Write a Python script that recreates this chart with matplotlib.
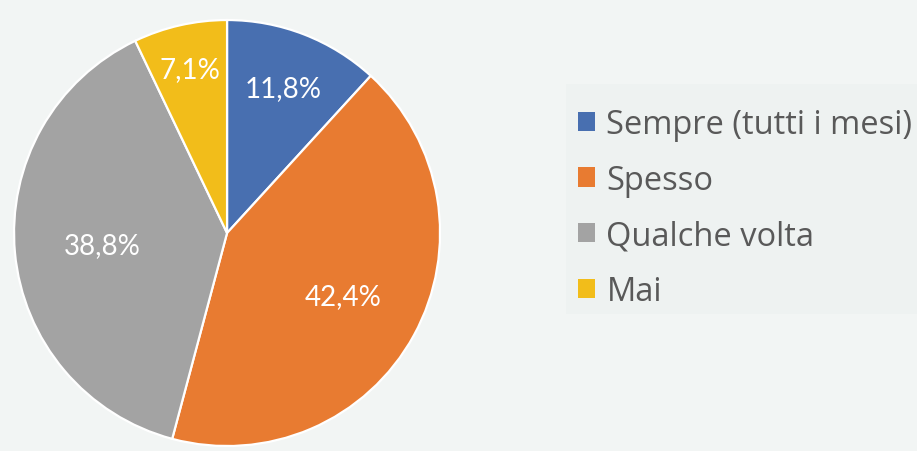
import numpy as np
import matplotlib
matplotlib.use("Agg")
import matplotlib.pyplot as plt
from matplotlib.patches import Rectangle

# Data
categories = ["Sempre (tutti i mesi)", "Spesso", "Qualche volta", "Mai"]
values = [11.8, 42.4, 38.8, 7.1]
colors = ["#486fb0", "#e87b31", "#a3a3a3", "#f2bd1a"]
label_r = [0.73, 0.62, 0.59, 0.79]   # radial position of each % label

plt.rcParams['font.family'] = ['Lato', 'DejaVu Sans']

bg = "#f2f5f4"
fig = plt.figure(figsize=(9.17, 4.52), dpi=100, facecolor=bg)

# legend background panel (runs off the right edge)
fig.patches.append(Rectangle((566 / 917, 1 - 315 / 452), 1, 230 / 452,
                             transform=fig.transFigure, facecolor="#eef2f1",
                             edgecolor="none", zorder=0))

ax = fig.add_axes([0.0153, 0.011, 0.4646, 0.9425])
ax.set_facecolor(bg)

wedges, _ = ax.pie(values, colors=colors, startangle=90, counterclock=False,
                   wedgeprops=dict(edgecolor="white", linewidth=1.6))

# percentage labels
for w, v, r in zip(wedges, values, label_r):
    mid = np.deg2rad((w.theta1 + w.theta2) / 2)
    ax.text(r * np.cos(mid), r * np.sin(mid), f"{v:.1f}".replace(".", ",") + "%",
            ha="center", va="center", color="white", fontsize=20)

ax.set_xlim(-1, 1)
ax.set_ylim(-1, 1)
ax.set_aspect("equal")
ax.axis("off")

leg = fig.legend(wedges, categories, loc="center left",
                 bbox_to_anchor=(578 / 917, 1 - 209 / 452),
                 frameon=False, prop={"family": "Open Sans", "size": 23.5},
                 handlelength=0.52, handleheight=0.52, handletextpad=0.35,
                 labelspacing=0.7, borderpad=0, borderaxespad=0)
for t in leg.get_texts():
    t.set_color("#595959")
for h in leg.legend_handles:
    h.set_edgecolor("none")

fig.savefig("out.png", dpi=100, facecolor=bg)
